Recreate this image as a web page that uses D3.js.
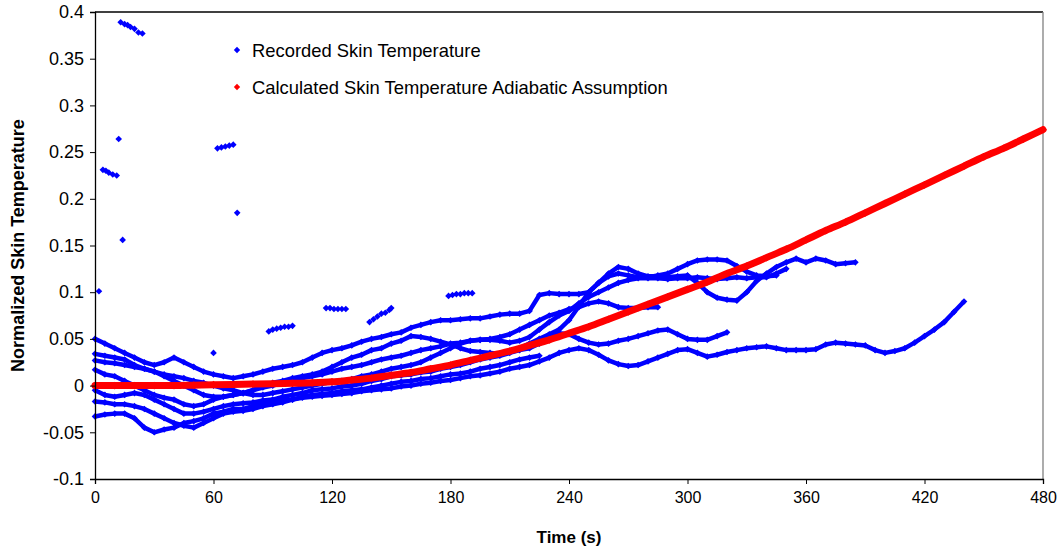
<!DOCTYPE html>
<html>
<head>
<meta charset="utf-8">
<script src="https://cdn.jsdelivr.net/npm/d3@7"></script>
<style>
  html, body { margin: 0; padding: 0; background: #fff; }
  svg { display: block; font-family: "Liberation Sans", Arial, sans-serif; }
</style>
</head>
<body>
<svg id="chart" width="1064" height="554"></svg>
<script>
// Axis ticks
const xTicks = [0, 60, 120, 180, 240, 300, 360, 420, 480];
const yTicks = [-0.1, -0.05, 0, 0.05, 0.1, 0.15, 0.2, 0.25, 0.3, 0.35, 0.4];

// Recorded runs: one value every 5 s starting at t = 0
const runStep = 5;
const run1 = [0.05,0.045,0.04,0.035,0.03,0.025,0.022,0.025,0.03,0.025,0.02,0.015,0.012,0.01,0.008,0.01,0.012,0.015,0.018,0.02,
  0.022,0.025,0.03,0.035,0.038,0.04,0.043,0.047,0.05,0.052,0.055,0.057,0.062,0.065,0.068,0.07,0.07,0.071,0.072,0.072,
  0.074,0.076,0.077,0.077,0.08,0.097,0.099,0.098,0.098,0.098,0.1,0.11,0.12,0.127,0.125,0.12,0.117,0.117,0.116,0.117,
  0.118,0.11,0.1,0.094,0.092,0.091,0.1,0.112,0.12,0.127,0.132,0.136,0.132,0.136,0.134,0.13,0.131,0.132];
const run2 = [0.034,0.032,0.03,0.028,0.022,0.018,0.015,0.01,0.005,0,-0.005,-0.01,-0.012,-0.012,-0.01,-0.008,-0.005,0,0.003,0.005,
  0.008,0.01,0.012,0.015,0.02,0.025,0.03,0.033,0.038,0.04,0.045,0.048,0.053,0.052,0.05,0.047,0.044,0.04,0.037,0.036,
  0.035,0.034,0.036,0.04,0.045,0.05,0.055,0.06,0.07,0.085,0.1,0.11,0.117,0.12,0.118,0.116,0.116,0.118,0.12,0.125,
  0.13,0.134,0.135,0.135,0.134,0.128,0.122,0.118,0.117,0.118];
const run3 = [0.027,0.025,0.024,0.022,0.02,0.018,0.015,0.012,0.01,0.008,0.005,0.003,0,-0.003,-0.005,-0.008,-0.01,-0.01,-0.008,-0.006,
  -0.004,-0.002,0,0.002,0.004,0.005,0.007,0.01,0.012,0.015,0.018,0.02,0.022,0.025,0.03,0.035,0.04,0.045,0.048,0.049,
  0.049,0.048,0.046,0.048,0.052,0.06,0.068,0.075,0.08,0.088,0.095,0.1,0.105,0.11,0.113,0.115,0.115,0.115,0.114,0.115,
  0.115,0.116,0.115,0.114,0.115,0.116,0.115,0.116,0.116,0.12,0.125];
const run4 = [0.017,0.012,0.01,0.005,0,-0.005,-0.01,-0.013,-0.015,-0.02,-0.022,-0.02,-0.015,-0.012,-0.01,-0.008,-0.005,-0.002,0,0.003,
  0.005,0.008,0.01,0.012,0.015,0.018,0.02,0.022,0.025,0.028,0.03,0.032,0.035,0.038,0.04,0.042,0.045,0.046,0.048,0.049,
  0.05,0.052,0.055,0.06,0.065,0.07,0.075,0.078,0.082,0.084,0.088,0.09,0.088,0.084,0.083,0.083,0.084,0.084];
const run5 = [-0.005,-0.01,-0.012,-0.01,-0.008,-0.01,-0.015,-0.02,-0.025,-0.03,-0.03,-0.028,-0.025,-0.022,-0.02,-0.019,-0.018,-0.016,-0.015,-0.012,
  -0.01,-0.008,-0.005,-0.004,-0.003,-0.001,0,0.002,0.005,0.007,0.01,0.011,0.012,0.014,0.015,0.018,0.02,0.022,0.025,0.028,
  0.03,0.032,0.035,0.038,0.04,0.045,0.05,0.056,0.055,0.05,0.046,0.044,0.045,0.048,0.05,0.053,0.056,0.059,0.06,0.055,
  0.05,0.049,0.049,0.053,0.057];
const run6 = [-0.033,-0.031,-0.03,-0.03,-0.035,-0.045,-0.05,-0.047,-0.045,-0.04,-0.038,-0.035,-0.03,-0.028,-0.025,-0.025,-0.022,-0.02,-0.018,-0.016,
  -0.015,-0.013,-0.012,-0.011,-0.01,-0.009,-0.008,-0.006,-0.005,-0.004,-0.003,-0.001,0,0.002,0.003,0.005,0.006,0.008,0.01,0.011,
  0.013,0.015,0.018,0.02,0.022,0.026,0.03,0.035,0.038,0.04,0.038,0.033,0.027,0.023,0.021,0.022,0.026,0.03,0.034,0.038,
  0.039,0.035,0.031,0.033,0.036,0.038,0.04,0.041,0.042,0.04,0.038,0.038,0.038,0.039,0.044,0.046,0.045,0.044,0.043,0.038,
  0.035,0.037,0.04,0.046,0.053,0.06,0.068,0.079,0.09];
const run7 = [-0.017,-0.018,-0.02,-0.02,-0.022,-0.025,-0.03,-0.035,-0.04,-0.043,-0.045,-0.04,-0.035,-0.03,-0.028,-0.027,-0.025,-0.022,-0.02,-0.018,
  -0.015,-0.012,-0.01,-0.009,-0.008,-0.006,-0.005,-0.004,-0.002,0,0.002,0.004,0.005,0.007,0.008,0.01,0.012,0.013,0.015,0.018,
  0.02,0.022,0.025,0.028,0.03,0.032];
const recordedRuns = [run1, run2, run3, run4, run5, run6, run7];

// Short recorded bursts and isolated readings: [time s, value]
const recordedFragments = [
  [13,0.389],[15,0.387],[16.5,0.386],[18,0.384],[20,0.382],[22,0.378],[24,0.377],
  [12,0.264],
  [4,0.231],[5.5,0.23],[7,0.228],[9,0.226],[11,0.225],
  [14,0.156],
  [62,0.254],[64,0.255],[66,0.256],[68,0.257],[70,0.258],
  [72,0.185],
  [2,0.101],
  [60,0.035],
  [88,0.058],[90,0.06],[92,0.061],[94,0.062],[96,0.063],[98,0.063],[100,0.064],
  [117,0.083],[119,0.083],[121,0.082],[123,0.082],[125,0.082],[127,0.082],
  [139,0.068],[141,0.071],[143,0.074],[145,0.077],[147,0.078],[149,0.081],[150,0.083],
  [179,0.096],[181,0.097],[183,0.098],[185,0.098],[187,0.099],[189,0.099],[191,0.099]
];

// Calculated (adiabatic) skin temperature: one value every 10 s
const calcStep = 10;
const calculated = [0,0,0,0,0,0.0005,0.001,0.0013,0.0017,0.002,0.0025,0.003,0.004,0.006,0.008,0.011,0.014,0.018,0.022,0.027,
  0.032,0.037,0.043,0.049,0.056,0.063,0.071,0.079,0.087,0.095,0.103,0.111,0.12,0.128,0.137,0.146,0.156,0.166,0.175,0.185,
  0.195,0.205,0.215,0.225,0.235,0.245,0.254,0.264,0.274];

const legendItems = ["Recorded Skin Temperature", "Calculated Skin Temperature Adiabatic Assumption"];

const BLUE = "#0000ff", RED = "#ff0000";
const svg = d3.select("#chart");
const plotLeft = 95, plotRight = 1043, plotTop = 12, plotBottom = 479;
const x = d3.scaleLinear().domain([0, 480]).range([plotLeft, plotRight]);
const y = d3.scaleLinear().domain([-0.1, 0.4]).range([plotBottom, plotTop]);

// plot frame: top black, right grey
svg.append("line").attr("x1", plotLeft).attr("x2", plotRight).attr("y1", plotTop).attr("y2", plotTop)
  .attr("stroke", "#000").attr("stroke-width", 1.3);
svg.append("line").attr("x1", plotRight).attr("x2", plotRight).attr("y1", plotTop).attr("y2", plotBottom)
  .attr("stroke", "#808080").attr("stroke-width", 1.3);

// square markers turned 45 degrees
const marker = size => d3.symbol().type(d3.symbolSquare).size(size)();
const place = d => `translate(${x(d[0])},${y(d[1])}) rotate(45)`;
const line = d3.line().x(d => x(d[0])).y(d => y(d[1]));

const plot = svg.append("g");

// recorded runs
recordedRuns.forEach(run => {
  const pts = run.map((v, i) => [i * runStep, v]);
  plot.append("path").datum(pts).attr("d", line)
    .attr("fill", "none").attr("stroke", BLUE).attr("stroke-width", 4.5).attr("stroke-linejoin", "round");
  plot.selectAll(null).data(pts).enter().append("path")
    .attr("d", marker(22)).attr("transform", place).attr("fill", BLUE);
});
plot.selectAll(null).data(recordedFragments).enter().append("path")
  .attr("d", marker(22)).attr("transform", place).attr("fill", BLUE);

// calculated curve
const calcPts = calculated.map((v, i) => [i * calcStep, v]);
plot.append("path").datum(calcPts).attr("d", d3.line().x(d => x(d[0])).y(d => y(d[1])).curve(d3.curveMonotoneX))
  .attr("fill", "none").attr("stroke", RED).attr("stroke-width", 7).attr("stroke-linecap", "round");
plot.selectAll(null).data(calcPts).enter().append("path")
  .attr("d", marker(30)).attr("transform", place).attr("fill", RED);

// axes
const fmt = d => String(+d.toFixed(2));
const yAxis = svg.append("g").attr("transform", `translate(${plotLeft},0)`)
  .call(d3.axisLeft(y).tickValues(yTicks).tickFormat(fmt).tickSize(5).tickPadding(6));
const xAxis = svg.append("g").attr("transform", `translate(0,${plotBottom})`)
  .call(d3.axisBottom(x).tickValues(xTicks).tickSize(5).tickPadding(8));
[yAxis, xAxis].forEach(g => {
  g.select(".domain").attr("stroke", "#000").attr("stroke-width", 1.3);
  g.selectAll(".tick line").attr("stroke", "#000");
  g.selectAll("text").attr("font-family", "Liberation Sans, Arial, sans-serif").attr("fill", "#000");
});
yAxis.selectAll("text").attr("font-size", 18);
xAxis.selectAll("text").attr("font-size", 16);

// axis titles
svg.append("text").attr("x", 569).attr("y", 543).attr("text-anchor", "middle")
  .attr("font-size", 17).attr("font-weight", "bold").text("Time (s)");
svg.append("text").attr("transform", `translate(24,${(plotTop + plotBottom) / 2}) rotate(-90)`)
  .attr("text-anchor", "middle").attr("font-size", 18).attr("font-weight", "bold")
  .text("Normalized Skin Temperature");

// legend
const legend = svg.append("g");
const colors = [BLUE, RED];
legendItems.forEach((label, i) => {
  const cy = 50 + i * 37;
  legend.append("path").attr("d", marker(20))
    .attr("transform", `translate(237,${cy}) rotate(45)`).attr("fill", colors[i]);
  legend.append("text").attr("x", 252).attr("y", cy + 6.5).attr("font-size", 18.4)
    .attr("fill", "#000").text(label);
});
</script>
</body>
</html>
